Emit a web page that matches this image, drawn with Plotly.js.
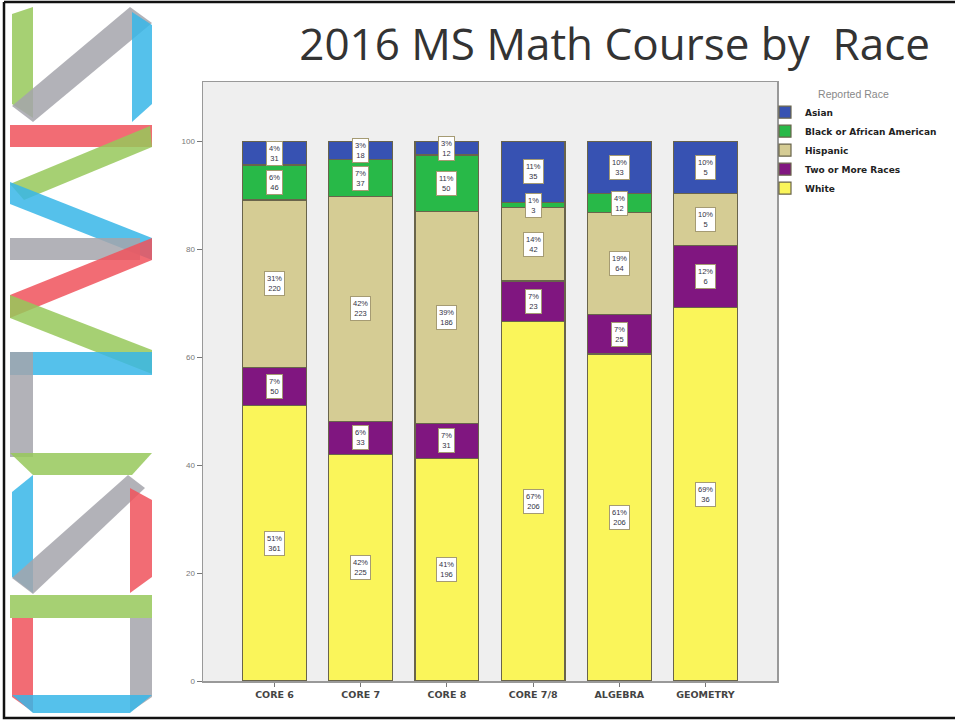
<!DOCTYPE html>
<html>
<head>
<meta charset="utf-8">
<script src="https://cdn.plot.ly/plotly-3.0.1.min.js"></script>
<style>
  html, body { margin: 0; padding: 0; background: #ffffff; }
  #chart { width: 955px; height: 720px; }
</style>
</head>
<body>
<div id="chart"></div>
<script>
// ---- data (counts) ----
const categories = ['CORE 6', 'CORE 7', 'CORE 8', 'CORE 7/8', 'ALGEBRA', 'GEOMETRY'];
const white      = [361, 225, 196, 206, 206, 36];
const twoOrMore  = [50, 33, 31, 23, 25, 6];
const hispanic   = [220, 223, 186, 42, 64, 5];
const black      = [46, 37, 50, 3, 12, 0];
const asian      = [31, 18, 12, 35, 33, 5];
const raceNames  = ['White', 'Two or More Races', 'Hispanic', 'Black or African American', 'Asian'];
const yTicks     = [0, 20, 40, 60, 80, 100];

// ---- styles ----
const raceColors = ['rgb(250,245,90)', 'rgb(128,22,128)', 'rgb(213,204,148)', 'rgb(40,185,72)', 'rgb(55,82,178)'];
const series = [white, twoOrMore, hispanic, black, asian];

const totals = categories.map((_, j) => series.reduce((s, arr) => s + arr[j], 0));
const pcts = series.map(arr => arr.map((v, j) => v / totals[j] * 100));

const traces = series.map((arr, i) => ({
  type: 'bar',
  name: '<b>' + raceNames[i] + '</b>',
  x: categories,
  y: pcts[i],
  width: 0.74,
  marker: { color: raceColors[i], line: { color: 'rgb(105,100,75)', width: 1.2 } },
  hoverinfo: 'skip'
}));

// label boxes, placed at segment centres via data coordinates
const annotations = [];
categories.forEach((c, j) => {
  let base = 0;
  series.forEach((arr, i) => {
    const p = pcts[i][j];
    if (arr[j] > 0) {
      annotations.push({
        x: c, y: base + p / 2, xref: 'x', yref: 'y',
        text: Math.round(p) + '%<br>' + arr[j],
        showarrow: false,
        font: { family: 'Liberation Sans, Arial, sans-serif', size: 7.5, color: '#334' },
        bgcolor: '#ffffff', bordercolor: 'rgb(165,155,115)', borderwidth: 1, borderpad: 2
      });
    }
    base += p;
  });
});

// ---- page geometry (pixels -> paper) ----
const W = 955, H = 720, L = 203, R = 777, T = 82, B = 681;
const px = x => (x - L) / (R - L);
const py = y => (B - y) / (B - T);
function poly(pts, color) {
  const d = pts.map((p, k) => (k ? 'L' : 'M') + px(p[0]).toFixed(5) + ',' + py(p[1]).toFixed(5)).join(' ') + ' Z';
  return { type: 'path', xref: 'paper', yref: 'paper', path: d, fillcolor: color, line: { width: 0 }, opacity: 0.85, layer: 'above' };
}
const G = 'rgb(150,200,90)', Y = 'rgb(165,165,172)', BL = 'rgb(55,182,232)', RD = 'rgb(240,82,92)';
const shapes = [
  poly([[12,14],[33,7],[33,118],[12,104]], G),
  poly([[12,106],[130,7],[152,23],[33,122]], Y),
  poly([[132,12],[152,25],[152,104],[132,122]], BL),
  poly([[10,125],[152,125],[152,147],[10,147]], RD),
  poly([[150,126],[152,147],[24,200],[10,184]], G),
  poly([[10,182],[152,238],[152,260],[10,204]], BL),
  poly([[10,238],[140,238],[140,260],[10,260]], Y),
  poly([[152,238],[152,260],[10,318],[10,295]], RD),
  poly([[10,295],[10,318],[152,374],[152,350]], G),
  poly([[10,352],[152,352],[152,375],[10,375]], BL),
  poly([[10,352],[33,352],[33,457],[10,457]], Y),
  poly([[10,453],[152,453],[132,475],[33,475]], G),
  poly([[12,492],[33,475],[33,593],[12,577]], BL),
  poly([[12,578],[128,475],[145,488],[33,594]], Y),
  poly([[130,488],[152,500],[152,577],[130,593]], RD),
  poly([[10,595],[152,595],[152,618],[10,618]], G),
  poly([[12,618],[33,618],[33,712],[12,697]], RD),
  poly([[130,618],[152,618],[152,697],[130,712]], Y),
  poly([[12,695],[152,695],[130,713],[33,713]], BL),
  { type: 'path', xref: 'paper', yref: 'paper',
    path: 'M' + px(4) + ',' + py(2) + ' L' + px(4) + ',' + py(718) + ' L' + px(960) + ',' + py(718) + ' M' + px(4) + ',' + py(2) + ' L' + px(960) + ',' + py(2),
    line: { color: '#111', width: 2.5 }, layer: 'above' }
];

const layout = {
  width: W, height: H,
  margin: { l: L, r: W - R, t: T, b: H - B, autoexpand: false },
  paper_bgcolor: '#ffffff',
  plot_bgcolor: 'rgb(239,239,239)',
  barmode: 'stack',
  showlegend: true,
  font: { family: 'Liberation Sans, Arial, sans-serif' },
  title: {
    text: '2016 MS Math Course by\u00A0 Race',
    xref: 'container', yref: 'container',
    x: 930 / W, xanchor: 'right', y: 1 - 45 / H, yanchor: 'middle',
    font: { family: 'Open Sans, sans-serif', size: 44, color: '#333' }
  },
  xaxis: {
    type: 'category', range: [-0.83, 5.83],
    showline: true, mirror: true, linecolor: '#999', linewidth: 1.5,
    ticks: 'outside', ticklen: 4, tickcolor: '#777',
    tickvals: categories, ticktext: categories.map(c => '<b>' + c + '</b>'),
    tickfont: { family: 'DejaVu Sans, sans-serif', size: 9.5, color: '#444' },
    showgrid: false, zeroline: false, fixedrange: true
  },
  yaxis: {
    range: [0, 111],
    tickvals: yTicks, ticktext: yTicks.map(String),
    showline: true, mirror: true, linecolor: '#999', linewidth: 1.5,
    ticks: 'outside', ticklen: 5, tickcolor: '#777',
    tickfont: { size: 8, color: '#777' },
    showgrid: false, zeroline: false, fixedrange: true
  },
  legend: {
    x: px(765), xanchor: 'left', y: py(84), yanchor: 'top',
    traceorder: 'reversed',
    bgcolor: 'rgba(0,0,0,0)',
    font: { family: 'DejaVu Sans, sans-serif', size: 9, color: '#222' },
    title: { text: 'Reported Race', side: 'top center', font: { family: 'Liberation Sans, Arial, sans-serif', size: 10.5, color: '#888' } },
    itemwidth: 30, tracegroupgap: 0
  },
  annotations: annotations,
  shapes: shapes
};

Plotly.newPlot('chart', traces, layout, { displayModeBar: false, staticPlot: true });
</script>
</body>
</html>
